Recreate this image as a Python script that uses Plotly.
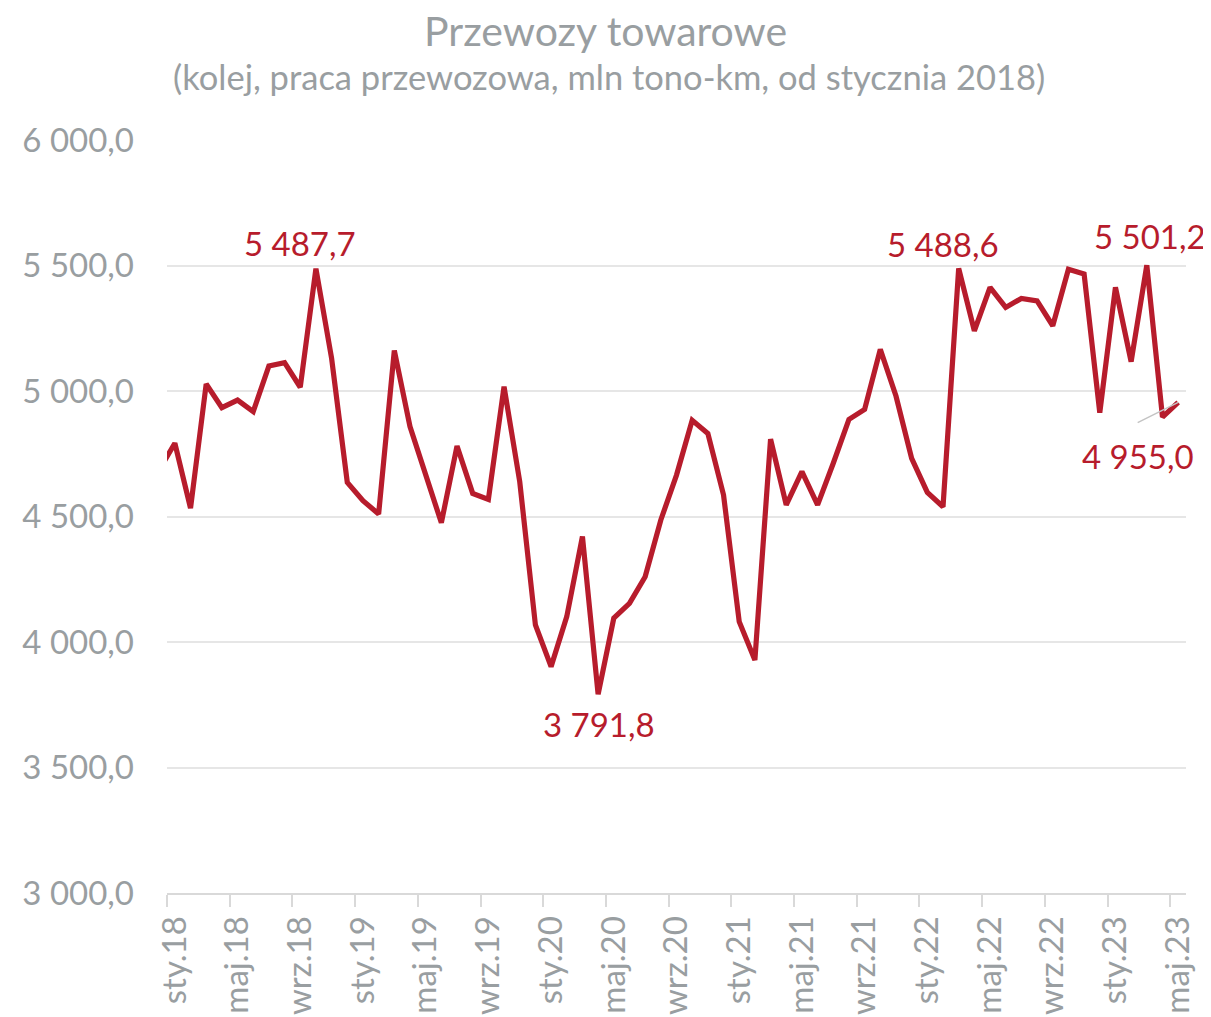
import plotly.graph_objects as go

# ---- data -------------------------------------------------------------
month_names = ["sty", "lut", "mar", "kwi", "maj", "cze",
               "lip", "sie", "wrz", "paź", "lis", "gru"]
start_year = 2018
# value for the month before the first one (only partly visible at the left edge)
prev_value = 4685
values = [
    4792, 4533, 5028, 4934, 4964, 4918, 5100, 5113, 5015, 5487.7, 5130, 4636,   # 2018
    4563, 4510, 5161, 4858, 4669, 4475, 4781, 4592, 4568, 5017, 4639, 4068,     # 2019
    3902, 4101, 4420, 3791.8, 4095, 4154, 4260, 4486, 4665, 4883, 4831, 4586,   # 2020
    4081, 3928, 4808, 4546, 4679, 4546, 4712, 4887, 4927, 5166, 4980, 4732,     # 2021
    4596, 4539, 5488.6, 5240, 5413, 5333, 5369, 5359, 5260, 5485, 5466, 4914,   # 2022
    5413, 5117, 5501.2, 4896, 4955.0,                                           # 2023
]
categories = [f"{month_names[i % 12]}.{(start_year + i // 12) % 100:02d}"
              for i in range(len(values))]
label_step = 4
labelled_points = [9, 27, 50, 62, 64]

# ---- style ------------------------------------------------------------
RED = "#B71C2C"
GREY = "#999EA1"
GRID = "#E6E6E6"
AXIS = "#D9D9D9"
FONT = "Lato"

def fmt(v):
    return f"{v:,.1f}".replace(",", " ").replace(".", ",")

x_idx = list(range(len(values)))

fig = go.Figure()
fig.add_trace(go.Scatter(
    x=[-1] + x_idx, y=[prev_value] + values,
    mode="lines", line=dict(color=RED, width=5.2),
    hoverinfo="skip", showlegend=False,
))

# data label offsets (pixels)
offsets = {9: (-16, 26), 27: (1, -30), 50: (-16, 24), 62: (3, 29), 64: (-40, -54)}
for k in labelled_points:
    dx, dy = offsets[k]
    fig.add_annotation(x=k, y=values[k], text=fmt(values[k]), showarrow=False,
                       xshift=dx, yshift=dy, xanchor="center", yanchor="middle",
                       font=dict(family=FONT, size=33, color=RED))

# leader line for last label
fig.add_annotation(x=x_idx[-1], y=values[-1], text="", showarrow=True,
                   ax=-42, ay=21, arrowhead=0, arrowwidth=1.5,
                   arrowcolor="#C4C4C4", standoff=0)

# titles
fig.add_annotation(xref="paper", yref="paper", x=0.4303, y=1.145,
                   xanchor="center", yanchor="middle",
                   text="Przewozy towarowe", showarrow=False,
                   font=dict(family=FONT, size=41, color=GREY))
fig.add_annotation(xref="paper", yref="paper", x=0.4333, y=1.084,
                   xanchor="center", yanchor="middle",
                   text="(kolej, praca przewozowa, mln tono-km, od stycznia 2018)",
                   showarrow=False,
                   font=dict(family=FONT, size=34.5, color=GREY))

fig.update_layout(
    width=1203, height=1009,
    margin=dict(l=159, r=25, t=132, b=124, autoexpand=False),
    paper_bgcolor="white", plot_bgcolor="white",
    separators=", ",
    font=dict(family=FONT, color=GREY),
    showlegend=False,
)
fig.update_xaxes(
    range=[-0.5, len(values) - 0.5],
    automargin=False,
    tickmode="array",
    tickvals=x_idx[::label_step],
    ticktext=categories[::label_step],
    tickangle=-90,
    tickfont=dict(family=FONT, size=33, color=GREY),
    ticks="", ticklabelstandoff=8,
    showline=True, linecolor=AXIS, linewidth=2,
    showgrid=False, zeroline=False,
    minor=dict(tick0=-0.5, dtick=label_step, ticks="outside", ticklen=12,
               tickwidth=2, tickcolor=AXIS, showgrid=False),
)
fig.update_yaxes(
    range=[3000, 6000], dtick=500, tick0=3000,
    automargin=False,
    tickformat=",.1f", separatethousands=True,
    tickfont=dict(family=FONT, size=33, color=GREY),
    ticks="", ticklabelstandoff=32,
    showgrid=True, gridcolor=GRID, gridwidth=2,
    zeroline=False, showline=False,
)

fig.write_html("out.html")
